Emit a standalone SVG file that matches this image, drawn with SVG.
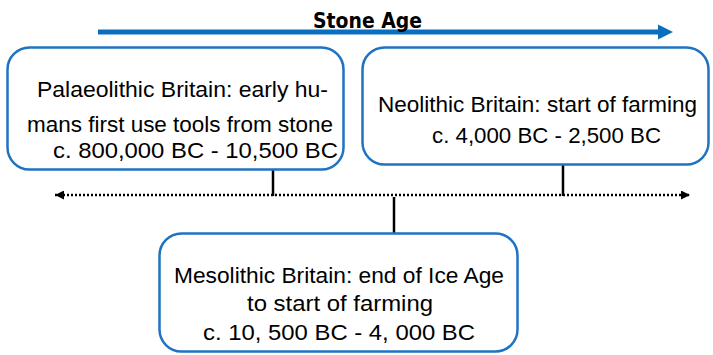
<svg xmlns="http://www.w3.org/2000/svg" width="713" height="355" viewBox="0 0 713 355">
<style>
.box{fill:#fff;stroke:#1f73c0;stroke-width:2.5}
.t{font-family:"Liberation Sans",Arial,sans-serif;font-size:22.5px;fill:#000}
.title{font-family:"DejaVu Sans",Verdana,sans-serif;font-weight:bold;font-size:20.5px;fill:#000}
.conn{stroke:#000;stroke-width:2.5;fill:none}
.dot{stroke:#000;stroke-width:2.5;stroke-dasharray:2 2;fill:none}
</style>
<defs>
<marker id="ah" viewBox="0 0 10 10" refX="10" refY="5" markerWidth="3.6" markerHeight="3.6" orient="auto-start-reverse" markerUnits="strokeWidth">
<path d="M0,0 L10,5 L0,10 Z" fill="#000"/>
</marker>
</defs>
<rect width="713" height="355" fill="#fff"/>
<g id="stone-age">
<path d="M98,32 H660" stroke="#0b6fbf" stroke-width="5"/>
<path d="M658,24.5 L673,32 L658,39.5 Z" fill="#0b6fbf"/>
<text class="title" x="313" y="28" textLength="109" lengthAdjust="spacingAndGlyphs">Stone Age</text>
</g>
<g id="connectors">
<path class="dot" d="M55,195 H690" marker-start="url(#ah)" marker-end="url(#ah)"/>
<path class="conn" d="M273,170 V196"/>
<path class="conn" d="M563,165 V196"/>
<path class="conn" d="M394,197 V233"/>
</g>
<g id="palaeolithic">
<rect class="box" x="7.5" y="47.5" width="336" height="122" rx="22"/>
<text class="t" x="37" y="97" textLength="291" lengthAdjust="spacingAndGlyphs">Palaeolithic Britain: early hu-</text>
<text class="t" x="27" y="132" textLength="306" lengthAdjust="spacingAndGlyphs">mans first use tools from stone</text>
<text class="t" x="53" y="158" textLength="285" lengthAdjust="spacingAndGlyphs">c. 800,000 BC - 10,500 BC</text>
</g>
<g id="neolithic">
<rect class="box" x="362.5" y="47.5" width="346" height="117" rx="22"/>
<text class="t" x="378" y="112" textLength="319" lengthAdjust="spacingAndGlyphs">Neolithic Britain: start of farming</text>
<text class="t" x="432" y="143" textLength="229" lengthAdjust="spacingAndGlyphs">c. 4,000 BC - 2,500 BC</text>
</g>
<g id="mesolithic">
<rect class="box" x="159.5" y="233.5" width="358" height="118" rx="22"/>
<text class="t" x="174" y="283" textLength="330" lengthAdjust="spacingAndGlyphs">Mesolithic Britain: end of Ice Age</text>
<text class="t" x="247" y="311" textLength="186" lengthAdjust="spacingAndGlyphs">to start of farming</text>
<text class="t" x="203" y="340" textLength="272" lengthAdjust="spacingAndGlyphs">c. 10, 500 BC - 4, 000 BC</text>
</g>
</svg>
